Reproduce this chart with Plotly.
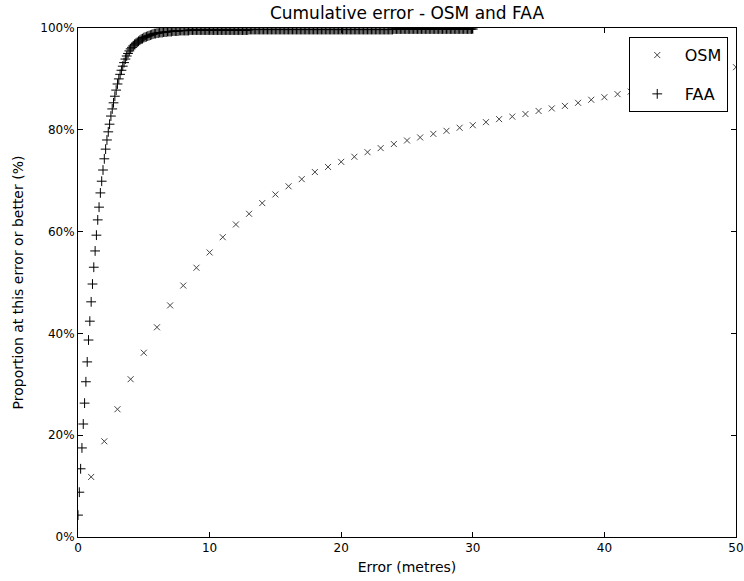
import plotly.graph_objects as go

# OSM: error in metres (1 m steps) and cumulative proportion (%)
osm_x = list(range(1, 51))
osm_y = [11.8, 18.8, 25.1, 31.0, 36.2, 41.2, 45.5, 49.4, 52.9, 55.9,
         58.9, 61.4, 63.5, 65.6, 67.3, 68.9, 70.3, 71.7, 72.7, 73.7,
         74.7, 75.6, 76.4, 77.2, 77.9, 78.5, 79.2, 79.8, 80.4, 80.9,
         81.5, 82.1, 82.6, 83.1, 83.7, 84.2, 84.7, 85.3, 85.9, 86.4,
         87.0, 87.5, 88.0, 88.6, 89.2, 89.8, 90.4, 91.0, 91.6, 92.3]

# FAA: error in metres (0.1 m steps, 0..30) and cumulative proportion (%)
faa_x = [i / 10 for i in range(301)]
faa_y = [
    4.3, 8.8, 13.4, 17.5, 22.2, 26.3, 30.5, 34.4, 38.7, 42.4,
    46.2, 49.7, 53.0, 56.2, 59.3, 62.3, 64.8, 67.6, 69.9, 72.1,
    74.3, 76.2, 78.0, 79.6, 81.1, 82.7, 84.1, 85.3, 86.6, 87.8,
    89.0, 90.0, 90.9, 91.7, 92.5, 93.2, 93.9, 94.5, 95.0, 95.5,
    95.9, 96.2, 96.5, 96.8, 97.0, 97.2, 97.4, 97.6, 97.8, 97.9,
    98.1, 98.2, 98.3, 98.4, 98.5, 98.6, 98.7, 98.8, 98.9, 98.9,
    99.0, 99.0, 99.1, 99.1, 99.1, 99.2, 99.2, 99.2, 99.3, 99.3,
    99.3, 99.3, 99.4, 99.4, 99.4, 99.4, 99.4, 99.5, 99.5, 99.5,
    99.5, 99.5, 99.5, 99.5, 99.5, 99.6, 99.6, 99.6, 99.6, 99.6,
    99.6, 99.6, 99.6, 99.6, 99.6, 99.6, 99.6, 99.6, 99.6, 99.6,
    99.6, 99.6, 99.6, 99.6, 99.6, 99.6, 99.6, 99.6, 99.6, 99.6,
    99.6, 99.6, 99.6, 99.6, 99.6, 99.6, 99.6, 99.6, 99.6, 99.6,
    99.6, 99.6, 99.6, 99.6, 99.6, 99.6, 99.6, 99.6, 99.6, 99.6,
    99.7, 99.7, 99.7, 99.7, 99.7, 99.7, 99.7, 99.7, 99.7, 99.7,
    99.7, 99.7, 99.7, 99.7, 99.7, 99.7, 99.7, 99.7, 99.7, 99.7,
    99.7, 99.7, 99.7, 99.7, 99.7, 99.7, 99.7, 99.7, 99.7, 99.7,
    99.7, 99.7, 99.7, 99.7, 99.7, 99.7, 99.7, 99.7, 99.7, 99.7,
    99.7, 99.7, 99.7, 99.7, 99.7, 99.7, 99.7, 99.7, 99.7, 99.7,
    99.7, 99.7, 99.7, 99.7, 99.7, 99.7, 99.7, 99.7, 99.7, 99.7,
    99.7, 99.7, 99.7, 99.7, 99.7, 99.7, 99.7, 99.7, 99.7, 99.7,
    99.7, 99.7, 99.7, 99.7, 99.7, 99.7, 99.7, 99.7, 99.7, 99.7,
    99.7, 99.7, 99.7, 99.7, 99.7, 99.7, 99.7, 99.7, 99.7, 99.7,
    99.7, 99.7, 99.7, 99.7, 99.7, 99.7, 99.7, 99.7, 99.7, 99.7,
    99.7, 99.7, 99.7, 99.7, 99.7, 99.7, 99.7, 99.7, 99.7, 99.7,
    99.8, 99.8, 99.8, 99.8, 99.8, 99.8, 99.8, 99.8, 99.8, 99.8,
    99.8, 99.8, 99.8, 99.8, 99.8, 99.8, 99.8, 99.8, 99.8, 99.8,
    99.8, 99.8, 99.8, 99.8, 99.8, 99.8, 99.8, 99.8, 99.8, 99.8,
    99.8, 99.8, 99.8, 99.8, 99.8, 99.8, 99.8, 99.8, 99.8, 99.8,
    99.8, 99.8, 99.8, 99.8, 99.8, 99.8, 99.8, 99.8, 99.8, 99.8,
    99.8, 99.8, 99.8, 99.8, 99.8, 99.8, 99.8, 99.8, 99.8, 99.8,
    99.8,
]

x_ticks = [0, 10, 20, 30, 40, 50]
y_ticks = [0, 20, 40, 60, 80, 100]
y_tick_labels = ["0%", "20%", "40%", "60%", "80%", "100%"]

FONT = "DejaVu Sans"

fig = go.Figure()
fig.add_trace(go.Scatter(
    x=osm_x, y=osm_y, mode="markers", name="OSM", legendgroup="a",
    marker=dict(symbol="x-thin", size=6, color="#444",
                line=dict(width=1, color="#444")),
))
fig.add_trace(go.Scatter(
    x=faa_x, y=faa_y, mode="markers", name="FAA", legendgroup="b",
    marker=dict(symbol="cross-thin", size=7, color="black",
                line=dict(width=1, color="black")),
))

axis_common = dict(
    showline=True, linecolor="black", linewidth=1, mirror="ticks",
    ticks="inside", ticklen=5, tickcolor="black", showgrid=False,
    zeroline=False, automargin=False,
    tickfont=dict(family=FONT, size=12, color="black"),
)

fig.update_layout(
    width=744, height=581,
    margin=dict(l=78, r=8, t=28, b=44),
    paper_bgcolor="white", plot_bgcolor="white",
    font=dict(family=FONT, size=12, color="black"),
    title=dict(text="Cumulative error - OSM and FAA", x=0.547, xanchor="center",
               y=0.978, yanchor="middle",
               font=dict(family=FONT, size=17, color="black")),
    xaxis=dict(range=[0, 50], tickvals=x_ticks,
               title=dict(text="Error (metres)", standoff=7,
                          font=dict(family=FONT, size=14)),
               **axis_common),
    yaxis=dict(range=[0, 100], tickvals=y_ticks, ticktext=y_tick_labels,
               title=dict(text="Proportion at this error or better (%)", standoff=13,
                          font=dict(family=FONT, size=14)),
               **axis_common),
    legend=dict(x=0.837, y=0.982, xanchor="left", yanchor="top",
                bordercolor="black", borderwidth=1, bgcolor="white",
                font=dict(family=FONT, size=16, color="black"),
                tracegroupgap=15, itemwidth=45),
    showlegend=True,
)

fig.write_html("out.html",
               config={"displayModeBar": False},
               post_script="document.body.style.margin='0';")
